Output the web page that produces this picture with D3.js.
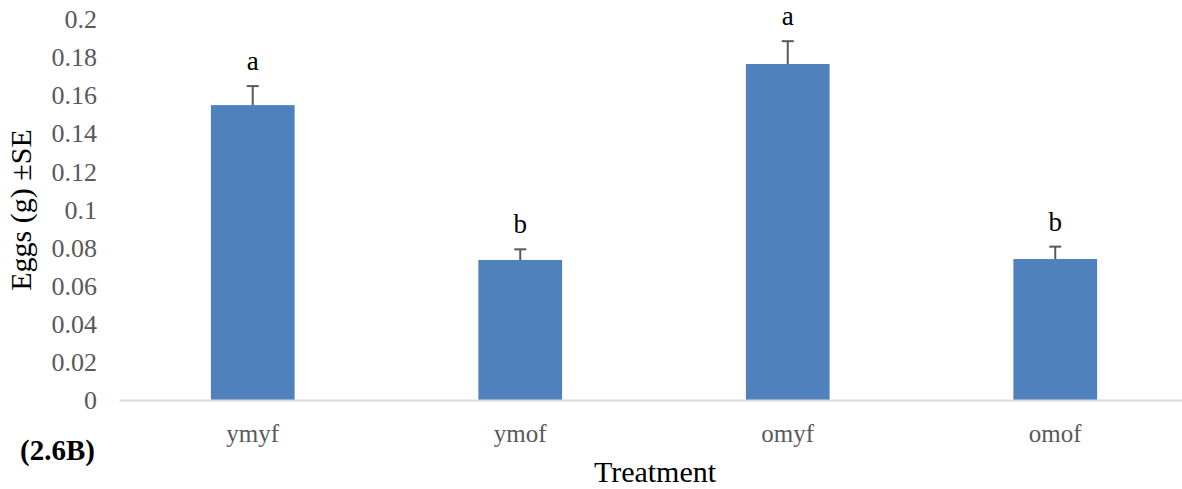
<!DOCTYPE html>
<html>
<head>
<meta charset="utf-8">
<script src="https://cdn.jsdelivr.net/npm/d3@7"></script>
<style>
  html, body { margin: 0; padding: 0; background: #fff; }
  svg { display: block; }
</style>
</head>
<body>
<svg id="chart" width="1182" height="489"></svg>
<script>
const categories = ["ymyf", "ymof", "omyf", "omof"];
const means = [0.155, 0.0736, 0.1766, 0.0741];
const errors = [0.010, 0.0056, 0.0120, 0.0065];
const letters = ["a", "b", "a", "b"];
const yTicks = [0, 0.02, 0.04, 0.06, 0.08, 0.1, 0.12, 0.14, 0.16, 0.18, 0.2];
const tickLabels = ["0", "0.02", "0.04", "0.06", "0.08", "0.1", "0.12", "0.14", "0.16", "0.18", "0.2"];

const svg = d3.select("#chart");
const font = "Liberation Serif, Times New Roman, serif";

const x = d3.scaleBand().domain(categories).range([119, 1189]).paddingInner(0.687).paddingOuter(0.3435);
const y = d3.scaleLinear().domain([0, 0.2]).range([400, 19.5]);

// bars
svg.append("g").selectAll("rect").data(categories).join("rect")
  .attr("x", d => x(d))
  .attr("y", (d, i) => y(means[i]))
  .attr("width", x.bandwidth())
  .attr("height", (d, i) => y(0) - y(means[i]))
  .attr("fill", "#4f81bd");

// x axis baseline
const xAxis = d3.axisBottom(x).tickSize(0).tickPadding(33);
const gx = svg.append("g").attr("transform", `translate(0,${y(0)})`).call(xAxis);
gx.attr("font-family", font).attr("font-size", 25);
gx.select(".domain").attr("stroke", "#d9d9d9").attr("stroke-width", 2);
gx.selectAll("text").attr("fill", "#595959").attr("dy", "0.35em");

// y axis labels only
const yAxis = d3.axisLeft(y).tickValues(yTicks).tickSize(0).tickPadding(0)
  .tickFormat((d, i) => tickLabels[i]);
const gy = svg.append("g").attr("transform", "translate(97,0)").call(yAxis);
gy.attr("font-family", font).attr("font-size", 26);
gy.select(".domain").remove();
gy.selectAll("text").attr("fill", "#595959");

// error bars
const eg = svg.append("g").attr("stroke", "#595959").attr("stroke-width", 2);
categories.forEach((c, i) => {
  const cx = x(c) + x.bandwidth() / 2;
  eg.append("line").attr("x1", cx).attr("x2", cx).attr("y1", y(means[i])).attr("y2", y(means[i] + errors[i]));
  eg.append("line").attr("x1", cx - 6).attr("x2", cx + 6).attr("y1", y(means[i] + errors[i])).attr("y2", y(means[i] + errors[i]));
});

// significance letters
svg.append("g").selectAll("text").data(categories).join("text")
  .attr("x", d => x(d) + x.bandwidth() / 2)
  .attr("y", (d, i) => y(means[i] + errors[i]) - 16)
  .attr("text-anchor", "middle")
  .attr("font-family", font).attr("font-size", 27).attr("fill", "#000")
  .text((d, i) => letters[i]);

// axis titles
svg.append("text")
  .attr("transform", `translate(31,210) rotate(-90)`)
  .attr("text-anchor", "middle")
  .attr("font-family", font).attr("font-size", 30).attr("fill", "#000")
  .text("Eggs (g) ±SE");

svg.append("text")
  .attr("x", 655).attr("y", 482)
  .attr("text-anchor", "middle")
  .attr("font-family", font).attr("font-size", 30).attr("fill", "#000")
  .text("Treatment");

svg.append("text")
  .attr("x", 20).attr("y", 460)
  .attr("font-family", font).attr("font-size", 29).attr("font-weight", "bold").attr("fill", "#000")
  .text("(2.6B)");
</script>
</body>
</html>
